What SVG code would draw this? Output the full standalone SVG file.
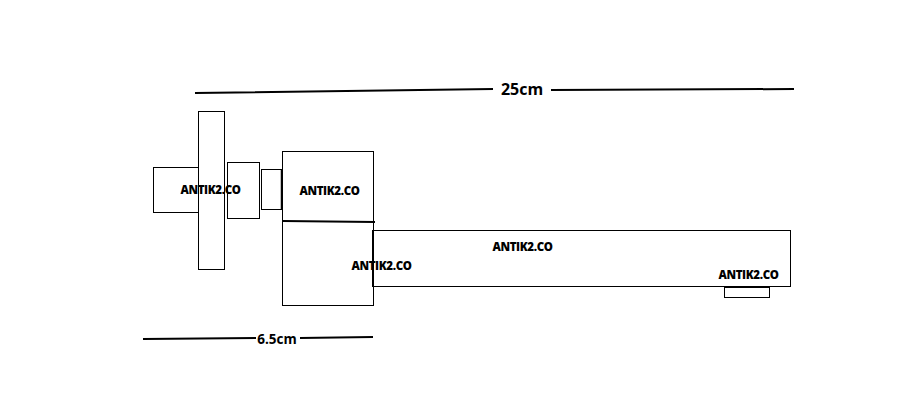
<svg xmlns="http://www.w3.org/2000/svg" width="900" height="418" viewBox="0 0 900 418">
<style>
.b{fill:#fff;stroke:#000;stroke-width:1}
.l{fill:none;stroke:#000;stroke-width:2}
.t{font-family:"Open Sans","Liberation Sans",sans-serif;font-weight:800;font-size:11.500px;fill:#000;text-anchor:middle;letter-spacing:-.35px}
.d{font-family:"Open Sans","Liberation Sans",sans-serif;font-weight:700;fill:#000;text-anchor:middle}
</style>
<rect width="900" height="418" fill="#fff"/>
<g id="stub"><rect class="b" x="153.500" y="167.500" width="45" height="45"/></g>
<g id="flange"><rect class="b" x="198.500" y="111.500" width="26" height="158"/></g>
<g id="collar"><rect class="b" x="227.500" y="162.500" width="32" height="56"/></g>
<g id="neck"><rect class="b" x="261.500" y="169.500" width="20" height="40"/></g>
<g id="body"><rect class="b" x="282.500" y="151.500" width="91" height="154"/></g>
<g id="handle"><rect class="b" x="372.500" y="230.500" width="418" height="56"/></g>
<g id="tab"><rect class="b" x="724.500" y="287.500" width="45" height="10"/></g>
<g id="connectors">
<path class="l" d="M195 93L493 89M551 90L794 89"/>
<path class="l" d="M143 339L256 338M300 338L373 337"/>
<path class="l" d="M283 221L375 222"/>
<path class="l" d="M373 231V286"/>
<path d="M281.500 170V209" stroke="#000" stroke-width="1.500" fill="none"/>
</g>
<g id="labels">
<text class="t" x="210.500" y="194">ANTIK2.CO</text>
<text class="t" x="329.500" y="195">ANTIK2.CO</text>
<text class="t" x="381.500" y="270">ANTIK2.CO</text>
<text class="t" x="522.500" y="251">ANTIK2.CO</text>
<text class="t" x="748.500" y="279">ANTIK2.CO</text>
<text class="d" x="522" y="95" font-size="16">25cm</text>
<text class="d" x="277" y="344" font-size="13.500">6.5cm</text>
</g>
</svg>
